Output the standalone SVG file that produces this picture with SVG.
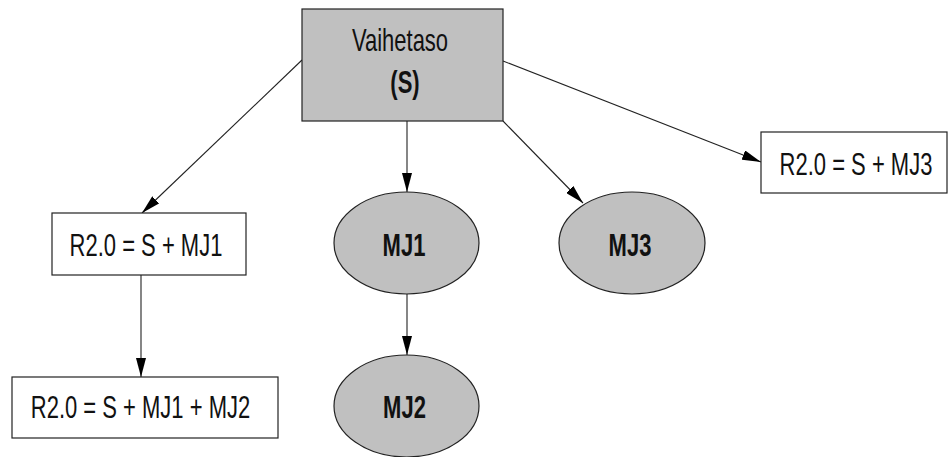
<svg xmlns="http://www.w3.org/2000/svg" width="949" height="457" viewBox="0 0 949 457">
  <style>
    .box { fill: #ffffff; stroke: #222222; stroke-width: 1.2; }
    .gray { fill: #c0c0c0; stroke: #222222; stroke-width: 1.2; }
    .lbl { font-family: "Liberation Sans", Arial, sans-serif; font-size: 22px; fill: #111111; text-anchor: middle; }
    .bold { font-weight: bold; }
    .edge { fill: none; stroke: #222222; stroke-width: 1.1; marker-end: url(#arrow); }
  </style>
  <defs>
    <marker id="arrow" markerUnits="userSpaceOnUse" markerWidth="19" markerHeight="10" refX="19" refY="5" orient="auto">
      <path d="M0,0 L19,5 L0,10 Z" fill="#000000"/>
    </marker>
  </defs>
  <rect width="949" height="457" fill="#ffffff"/>

  <g id="connectors">
    <line class="edge" x1="302" y1="60" x2="142" y2="213"/>
    <line class="edge" x1="407" y1="121" x2="407" y2="192"/>
    <line class="edge" x1="503" y1="121" x2="583" y2="203"/>
    <line class="edge" x1="503" y1="61" x2="761" y2="162"/>
    <line class="edge" x1="141" y1="275" x2="141" y2="377"/>
    <line class="edge" x1="407" y1="294" x2="407" y2="355"/>
  </g>

  <g id="node-s">
    <rect class="gray" x="302" y="9" width="201" height="112"/>
    <text class="lbl" transform="translate(400,51) scale(1,1.45)">Vaihetaso</text>
    <text class="lbl bold" transform="translate(405,93) scale(1,1.45)">(S)</text>
  </g>

  <g id="node-r-mj1">
    <rect class="box" x="52" y="213" width="194" height="62"/>
    <text class="lbl" transform="translate(146,256) scale(1,1.45)">R2.0 = S + MJ1</text>
  </g>

  <g id="node-r-mj1-mj2">
    <rect class="box" x="12" y="377" width="266" height="61"/>
    <text class="lbl" transform="translate(140.5,418) scale(1,1.45)">R2.0 = S + MJ1 + MJ2</text>
  </g>

  <g id="node-r-mj3">
    <rect class="box" x="761" y="132" width="186" height="61"/>
    <text class="lbl" transform="translate(856,175) scale(1,1.45)">R2.0 = S + MJ3</text>
  </g>

  <g id="node-mj1">
    <ellipse class="gray" cx="406.5" cy="243" rx="72.5" ry="51"/>
    <text class="lbl bold" transform="translate(404,256) scale(1,1.45)">MJ1</text>
  </g>

  <g id="node-mj3">
    <ellipse class="gray" cx="632" cy="243" rx="73" ry="51"/>
    <text class="lbl bold" transform="translate(630,256) scale(1,1.45)">MJ3</text>
  </g>

  <g id="node-mj2">
    <ellipse class="gray" cx="406.5" cy="406" rx="72.5" ry="51"/>
    <text class="lbl bold" transform="translate(404.5,418) scale(1,1.45)">MJ2</text>
  </g>
</svg>
